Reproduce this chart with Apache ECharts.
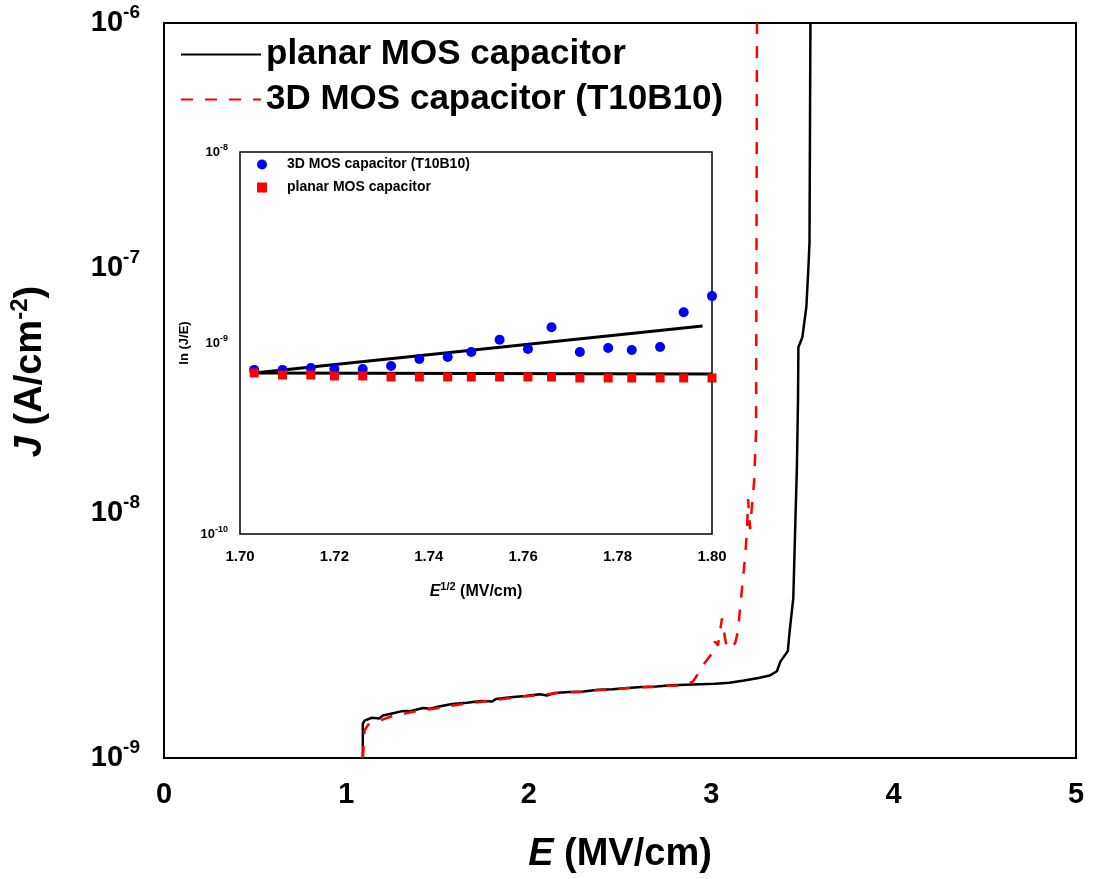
<!DOCTYPE html>
<html>
<head>
<meta charset="utf-8">
<script src="https://cdn.jsdelivr.net/npm/echarts@6/dist/echarts.min.js"></script>
<style>
  html, body { margin: 0; padding: 0; background: #fff; }
  #chart { width: 1093px; height: 879px; }
</style>
</head>
<body>
<div id="chart"></div>
<script>
// main plot: J-E curves
const planarE = [1.09, 1.09, 1.10, 1.14, 1.18, 1.20, 1.25, 1.30, 1.36, 1.42, 1.46, 1.50, 1.58, 1.66, 1.74, 1.80, 1.82, 1.90, 1.98, 2.06, 2.10, 2.14, 2.22, 2.30, 2.38, 2.46, 2.54, 2.62, 2.70, 2.78, 2.86, 2.94, 3.02, 3.10, 3.18, 3.26, 3.32, 3.36, 3.38, 3.42, 3.43, 3.45, 3.46, 3.47, 3.476, 3.478, 3.50, 3.522, 3.533, 3.539, 3.544];
const planarJ = [1.0e-9, 1.38e-9, 1.42e-9, 1.46e-9, 1.45e-9, 1.49e-9, 1.52e-9, 1.55e-9, 1.56e-9, 1.60e-9, 1.59e-9, 1.62e-9, 1.66e-9, 1.68e-9, 1.71e-9, 1.70e-9, 1.74e-9, 1.77e-9, 1.79e-9, 1.82e-9, 1.80e-9, 1.84e-9, 1.86e-9, 1.87e-9, 1.90e-9, 1.91e-9, 1.93e-9, 1.95e-9, 1.96e-9, 1.98e-9, 1.99e-9, 2.00e-9, 2.01e-9, 2.03e-9, 2.07e-9, 2.12e-9, 2.17e-9, 2.26e-9, 2.48e-9, 2.73e-9, 3.29e-9, 4.48e-9, 8.4e-9, 1.56e-8, 2.92e-8, 4.75e-8, 5.22e-8, 6.98e-8, 1.01e-7, 1.27e-7, 1.0e-6];

const t10b10E = [1.09, 1.10, 1.12, 1.18, 1.25, 1.32, 1.40, 1.48, 1.56, 1.64, 1.72, 1.80, 1.88, 1.96, 2.04, 2.12, 2.20, 2.28, 2.36, 2.44, 2.52, 2.60, 2.68, 2.76, 2.84, 2.90, 2.92, 2.955, 3.004, 3.021, 3.037, 3.059, 3.076, 3.087, 3.131, 3.147, 3.158, 3.169, 3.185, 3.196, 3.202, 3.213, 3.224, 3.235, 3.246, 3.251];
const t10b10J = [1.0e-9, 1.30e-9, 1.37e-9, 1.42e-9, 1.48e-9, 1.52e-9, 1.56e-9, 1.59e-9, 1.63e-9, 1.66e-9, 1.69e-9, 1.72e-9, 1.75e-9, 1.78e-9, 1.80e-9, 1.83e-9, 1.85e-9, 1.86e-9, 1.89e-9, 1.90e-9, 1.92e-9, 1.94e-9, 1.95e-9, 1.97e-9, 1.98e-9, 2.05e-9, 2.16e-9, 2.39e-9, 2.67e-9, 2.99e-9, 2.88e-9, 3.71e-9, 3.08e-9, 2.80e-9, 2.94e-9, 3.29e-9, 4.08e-9, 4.92e-9, 6.52e-9, 8.4e-9, 1.14e-8, 8.6e-9, 1.08e-8, 1.34e-8, 2.14e-8, 1.0e-6];

// inset: ln(J/E) vs E^1/2
const sqrtE = [1.703, 1.709, 1.715, 1.720, 1.726, 1.732, 1.738, 1.744, 1.749, 1.755, 1.761, 1.766, 1.772, 1.778, 1.783, 1.789, 1.794, 1.800];
const insetT10b10 = [7.23e-10, 7.23e-10, 7.40e-10, 7.31e-10, 7.31e-10, 7.58e-10, 8.25e-10, 8.45e-10, 8.97e-10, 1.04e-9, 9.30e-10, 1.21e-9, 8.97e-10, 9.41e-10, 9.19e-10, 9.53e-10, 1.45e-9, 1.76e-9];
const insetPlanar = [6.97e-10, 6.80e-10, 6.80e-10, 6.72e-10, 6.72e-10, 6.64e-10, 6.64e-10, 6.64e-10, 6.64e-10, 6.64e-10, 6.64e-10, 6.64e-10, 6.56e-10, 6.56e-10, 6.56e-10, 6.56e-10, 6.56e-10, 6.56e-10];
const fitT10b10X = [1.703, 1.798];
const fitT10b10Y = [6.97e-10, 1.228e-9];
const fitPlanarX = [1.703, 1.800];
const fitPlanarY = [6.97e-10, 6.88e-10];

const mainTicksX = [0, 1, 2, 3, 4, 5];
const insetTicksX = ['1.70', '1.72', '1.74', '1.76', '1.78', '1.80'];

const legendNames = {
  planar: 'planar MOS capacitor',
  t10b10: '3D MOS capacitor (T10B10)',
  insetT10b10: '3D MOS capacitor (T10B10)',
  insetPlanar: 'planar MOS capacitor',
};

const FONT = '"Liberation Sans", Arial, sans-serif';
const zip = (xs, ys) => xs.map((x, i) => [x, ys[i]]);
const decade = (v) => Math.round(Math.log10(v));

const chart = echarts.init(document.getElementById('chart'));

const option = {
  backgroundColor: '#fff',
  animation: false,
  textStyle: { fontFamily: FONT },
  legend: [
    {
      data: ['planar', 't10b10'],
      orient: 'vertical',
      left: 175,
      top: 31,
      itemWidth: 80,
      itemHeight: 14,
      itemGap: 8,
      itemStyle: { opacity: 0 },
      formatter: (n) => legendNames[n],
      textStyle: { fontSize: 35, fontWeight: 'bold', color: '#000', fontFamily: FONT, lineHeight: 37 },
    },
    {
      data: ['insetT10b10', 'insetPlanar'],
      orient: 'vertical',
      left: 252,
      top: 152,
      itemWidth: 10,
      itemHeight: 10,
      itemGap: 8,
      formatter: (n) => legendNames[n],
      textStyle: { fontSize: 14, fontWeight: 'bold', color: '#000', fontFamily: FONT, lineHeight: 15, padding: [0, 0, 0, 15] },
    },
  ],
  grid: [
    { left: 164, top: 23, width: 912, height: 737, show: true, borderColor: '#000', borderWidth: 2, backgroundColor: 'transparent' },
    { left: 240, top: 152, width: 472, height: 382, show: true, borderColor: '#000', borderWidth: 1.5, backgroundColor: '#fff' },
  ],
  xAxis: [
    {
      gridIndex: 0,
      type: 'value',
      min: mainTicksX[0],
      max: mainTicksX[mainTicksX.length - 1],
      interval: 1,
      axisLine: { show: false },
      axisTick: { show: false },
      splitLine: { show: false },
      axisLabel: { margin: 22, fontSize: 29, fontWeight: 'bold', color: '#000', fontFamily: FONT },
      name: '{i|E}{n| (MV/cm)}',
      nameLocation: 'middle',
      nameGap: 78,
      nameMoveOverlap: false,
      nameTextStyle: {
        rich: {
          i: { fontSize: 38, fontWeight: 'bold', fontStyle: 'italic', color: '#000', fontFamily: FONT },
          n: { fontSize: 38, fontWeight: 'bold', color: '#000', fontFamily: FONT },
        },
      },
    },
    {
      gridIndex: 1,
      type: 'value',
      min: 1.70,
      max: 1.80,
      interval: 0.02,
      axisLine: { show: false },
      axisTick: { show: false },
      splitLine: { show: false },
      axisLabel: {
        margin: 15,
        fontSize: 15,
        fontWeight: 'bold',
        color: '#000',
        fontFamily: FONT,
        formatter: (v) => insetTicksX[Math.round((v - 1.70) / 0.02)],
      },
      name: '{i|E}{s|1/2}{n| (MV/cm)}',
      nameLocation: 'middle',
      nameGap: 47,
      nameMoveOverlap: false,
      nameTextStyle: {
        rich: {
          i: { fontSize: 16, fontWeight: 'bold', fontStyle: 'italic', color: '#000', fontFamily: FONT, lineHeight: 22 },
          s: { fontSize: 11, fontWeight: 'bold', color: '#000', fontFamily: FONT, verticalAlign: 'top', lineHeight: 12 },
          n: { fontSize: 16, fontWeight: 'bold', color: '#000', fontFamily: FONT, lineHeight: 22 },
        },
      },
    },
  ],
  yAxis: [
    {
      gridIndex: 0,
      type: 'log',
      logBase: 10,
      min: 1e-9,
      max: 1e-6,
      axisLine: { show: false },
      axisTick: { show: false },
      splitLine: { show: false },
      axisLabel: {
        margin: 24,
        formatter: (v) => '{b|10}{s|-' + Math.abs(decade(v)) + '}',
        rich: {
          b: { fontSize: 29, fontWeight: 'bold', color: '#000', fontFamily: FONT, lineHeight: 40 },
          s: { fontSize: 19, fontWeight: 'bold', color: '#000', fontFamily: FONT, verticalAlign: 'top', lineHeight: 18 },
        },
      },
      name: '{i|J}{n| (A/cm}{s|-2}{n|)}',
      nameLocation: 'middle',
      nameGap: 110,
      nameMoveOverlap: false,
      nameTextStyle: {
        padding: [0, 0, 0, 38],
        rich: {
          i: { fontSize: 38, fontWeight: 'bold', fontStyle: 'italic', color: '#000', fontFamily: FONT, lineHeight: 46 },
          n: { fontSize: 38, fontWeight: 'bold', color: '#000', fontFamily: FONT, lineHeight: 46 },
          s: { fontSize: 24, fontWeight: 'bold', color: '#000', fontFamily: FONT, verticalAlign: 'top', lineHeight: 24 },
        },
      },
    },
    {
      gridIndex: 1,
      type: 'log',
      logBase: 10,
      min: 1e-10,
      max: 1e-8,
      axisLine: { show: false },
      axisTick: { show: false },
      splitLine: { show: false },
      axisLabel: {
        margin: 12,
        formatter: (v) => '{b|10}{s|-' + Math.abs(decade(v)) + '}',
        rich: {
          b: { fontSize: 13, fontWeight: 'bold', color: '#000', fontFamily: FONT, lineHeight: 18 },
          s: { fontSize: 9, fontWeight: 'bold', color: '#000', fontFamily: FONT, verticalAlign: 'top', lineHeight: 8 },
        },
      },
      name: 'ln (J/E)',
      nameLocation: 'middle',
      nameGap: 49,
      nameMoveOverlap: false,
      nameTextStyle: { fontSize: 13, fontWeight: 'bold', color: '#000', fontFamily: FONT },
    },
  ],
  series: [
    {
      name: 'planar',
      type: 'line',
      xAxisIndex: 0,
      yAxisIndex: 0,
      data: zip(planarE, planarJ),
      symbol: 'none',
      lineStyle: { color: '#000', width: 2.5 },
      itemStyle: { color: '#000' },
      z: 3,
    },
    {
      name: 't10b10',
      type: 'line',
      xAxisIndex: 0,
      yAxisIndex: 0,
      data: zip(t10b10E, t10b10J),
      symbol: 'none',
      lineStyle: { color: '#ff0000', width: 2.5, type: [12, 12] },
      itemStyle: { color: '#ff0000' },
      z: 4,
    },
    {
      name: 'fitT10b10',
      type: 'line',
      xAxisIndex: 1,
      yAxisIndex: 1,
      data: zip(fitT10b10X, fitT10b10Y),
      symbol: 'none',
      lineStyle: { color: '#000', width: 3 },
      z: 5,
    },
    {
      name: 'fitPlanar',
      type: 'line',
      xAxisIndex: 1,
      yAxisIndex: 1,
      data: zip(fitPlanarX, fitPlanarY),
      symbol: 'none',
      lineStyle: { color: '#000', width: 3 },
      z: 5,
    },
    {
      name: 'insetT10b10',
      type: 'scatter',
      xAxisIndex: 1,
      yAxisIndex: 1,
      data: zip(sqrtE, insetT10b10),
      symbol: 'circle',
      symbolSize: 10,
      itemStyle: { color: '#0000ff', opacity: 1 },
      z: 6,
      clip: false,
    },
    {
      name: 'insetPlanar',
      type: 'scatter',
      xAxisIndex: 1,
      yAxisIndex: 1,
      data: zip(sqrtE, insetPlanar),
      symbol: 'rect',
      symbolSize: 9,
      itemStyle: { color: '#ff0000', opacity: 1 },
      z: 6,
      clip: false,
    },
  ],
};

chart.setOption(option);
</script>
</body>
</html>
